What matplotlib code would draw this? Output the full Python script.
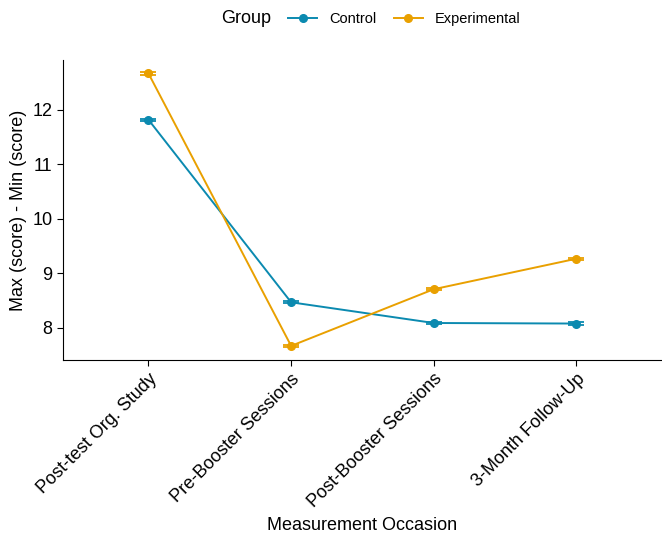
import matplotlib
matplotlib.use("Agg")
import matplotlib.pyplot as plt
from matplotlib.lines import Line2D
from matplotlib.offsetbox import HPacker
import numpy as np

plt.rcParams['font.family'] = ['Liberation Sans', 'DejaVu Sans']

occasions = ["Post-test Org. Study", "Pre-Booster Sessions",
             "Post-Booster Sessions", "3-Month Follow-Up"]
control = [11.82, 8.47, 8.09, 8.08]
experimental = [12.67, 7.67, 8.71, 9.27]
control_err = [0.02, 0.02, 0.02, 0.02]
experimental_err = [0.02, 0.02, 0.02, 0.02]

col_control = "#0B8AB0"
col_exp = "#E9A000"

fig = plt.figure(figsize=(6.62, 5.39), dpi=100)
ax = fig.add_axes([0.095, 0.332, 0.905, 0.557])

x = np.arange(1, len(occasions) + 1)
handles = []
for vals, err, col, name in [(control, control_err, col_control, "Control"),
                             (experimental, experimental_err, col_exp, "Experimental")]:
    ax.errorbar(x, vals, yerr=err, color=col, marker="o", ms=5.5, lw=1.4,
                capsize=6, capthick=1.3, elinewidth=1.3)
    handles.append(Line2D([], [], color=col, marker="o", ms=5.5, lw=1.4, label=name))

ax.set_xlim(0.4, 4.6)
ax.set_ylim(7.41, 12.92)
ax.set_yticks([8, 9, 10, 11, 12])
ax.set_xticks(x)
ax.set_xticklabels(occasions, rotation=45, ha="right", rotation_mode="anchor")
ax.tick_params(labelsize=13, colors="black", length=4)
ax.spines["top"].set_visible(False)
ax.spines["right"].set_visible(False)
ax.set_ylabel("Max (score) - Min (score)", fontsize=13)
ax.set_xlabel("Measurement Occasion", fontsize=13)

leg = fig.legend(handles=handles, loc="upper center", bbox_to_anchor=(0.56, 1.005),
                 ncol=2, frameon=False, fontsize=10.5, title="Group",
                 title_fontsize=13, handlelength=2.0, columnspacing=1.2)
# title to the left of entries, like ggplot's top legend
box = leg._legend_box
box.__class__ = HPacker
box.sep = 12
box.align = "center"

fig.savefig("out.png", dpi=100)
